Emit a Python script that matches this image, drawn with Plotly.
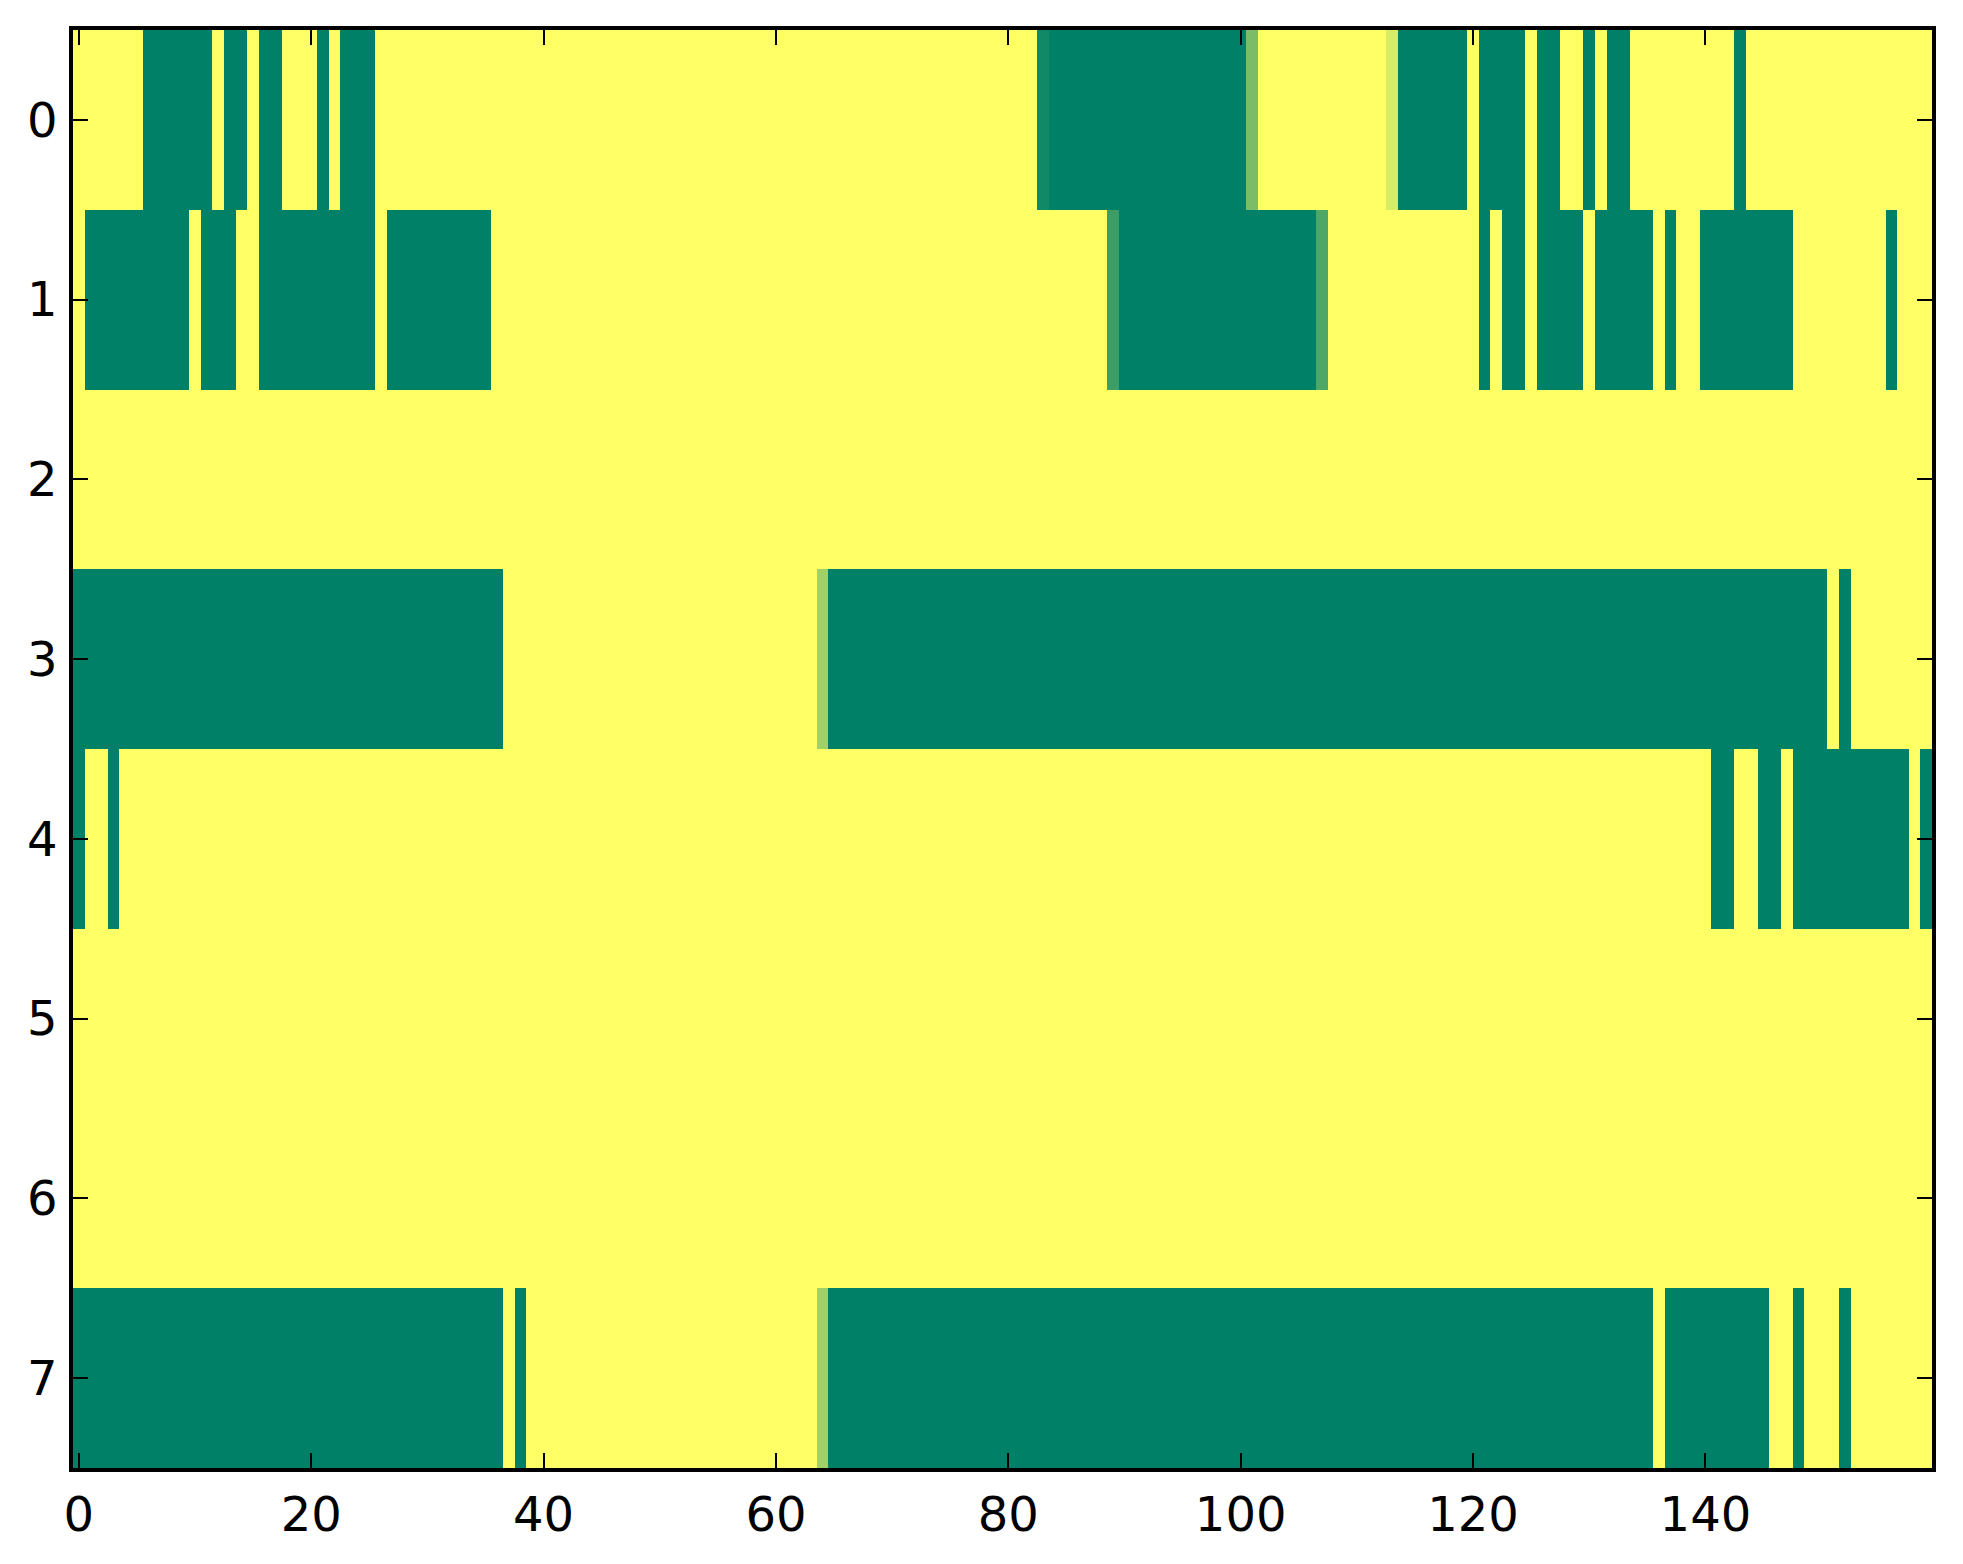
import plotly.graph_objects as go

# Column and row indices
columns = list(range(160))
rows = list(range(8))

# Each row as (value, run-length) pairs
row_0 = [(1, 6), (0, 6), (1, 1), (0, 2), (1, 1), (0, 2), (1, 3), (0, 1), (1, 1), (0, 3),
         (1, 57), (0.07, 1), (0, 17), (0.48, 1), (1, 11), (0.85, 1), (0, 6), (1, 1), (0, 4),
         (1, 1), (0, 2), (1, 2), (0, 1), (1, 1), (0, 2), (1, 9), (0, 1), (1, 16)]
row_1 = [(1, 1), (0, 9), (1, 1), (0, 3), (1, 2), (0, 10), (1, 1), (0, 9), (1, 53),
         (0.235, 1), (0, 17), (0.31, 1), (1, 13), (0, 1), (1, 1), (0, 2), (1, 1), (0, 4),
         (1, 1), (0, 5), (1, 1), (0, 1), (1, 2), (0, 8), (1, 8), (0, 1), (1, 3)]
row_2 = [(1, 160)]
row_3 = [(0, 37), (1, 27), (0.63, 1), (0, 86), (1, 1), (0, 1), (1, 7)]
row_4 = [(0, 1), (1, 2), (0, 1), (1, 137), (0, 2), (1, 2), (0, 2), (1, 1), (0, 10), (1, 1), (0, 1)]
row_5 = [(1, 160)]
row_6 = [(1, 160)]
row_7 = [(0, 37), (1, 1), (0, 1), (1, 25), (0.63, 1), (0, 71), (1, 1), (0, 9), (1, 2),
         (0, 1), (1, 3), (0, 1), (1, 7)]

x_tick_vals = [0, 20, 40, 60, 80, 100, 120, 140]
y_tick_vals = [0, 1, 2, 3, 4, 5, 6, 7]


def expand(runs):
    out = []
    for v, n in runs:
        out.extend([v] * n)
    return out


z = [expand(r) for r in (row_0, row_1, row_2, row_3, row_4, row_5, row_6, row_7)]

summer = [[0.0, "rgb(0,128,102)"], [1.0, "rgb(255,255,102)"]]

fig = go.Figure(
    go.Heatmap(
        z=z,
        x=columns,
        y=rows,
        colorscale=summer,
        zmin=0,
        zmax=1,
        showscale=False,
        zsmooth=False,
        hoverongaps=False,
    )
)

axis_common = dict(
    showline=True,
    linecolor="black",
    linewidth=3.5,
    mirror="allticks",
    ticks="inside",
    ticklen=15,
    tickwidth=2,
    tickcolor="black",
    showgrid=False,
    zeroline=False,
    tickfont=dict(family="DejaVu Sans", size=48, color="black"),
)

fig.update_layout(
    width=1955,
    height=1556,
    margin=dict(l=65, r=31, t=22, b=96),
    paper_bgcolor="white",
    plot_bgcolor="white",
    xaxis=dict(
        range=[-0.5, 159.5],
        tickmode="array",
        tickvals=x_tick_vals,
        ticktext=[str(v) for v in x_tick_vals],
        ticklabelstandoff=2,
        **axis_common,
    ),
    yaxis=dict(
        range=[7.5, -0.5],
        tickmode="array",
        tickvals=y_tick_vals,
        ticktext=[str(v) for v in y_tick_vals],
        ticklabelstandoff=2,
        **axis_common,
    ),
)

fig.write_html("out.html")
